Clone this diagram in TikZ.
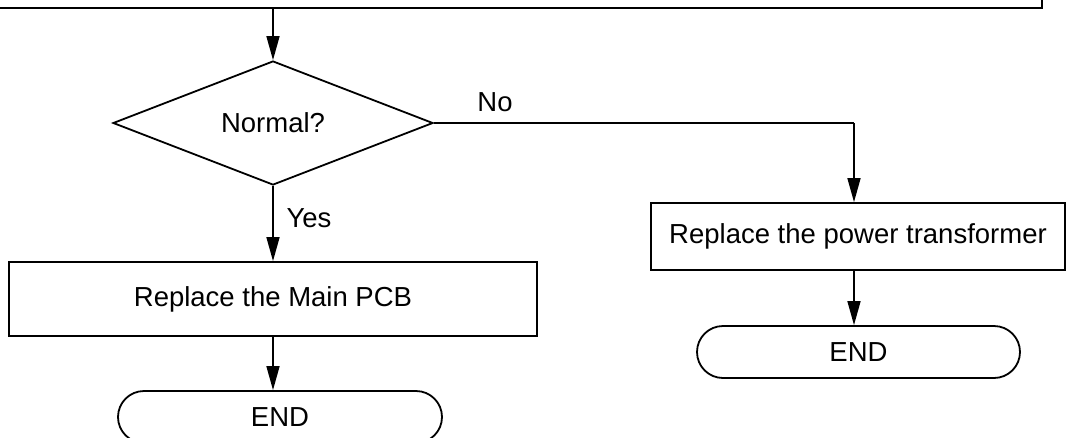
\documentclass[tikz,border=0pt]{standalone}
\usepackage{fontspec}
\setmainfont{Liberation Sans}
\usetikzlibrary{shapes.geometric,shapes.misc,arrows.meta,calc}
\begin{document}
\begin{tikzpicture}[x=1pt,y=-1pt,
  every node/.style={font=\fontsize{27.5}{33}\selectfont, inner sep=0pt},
  boxstyle/.style={draw, line width=1.8pt, rectangle},
  decstyle/.style={draw, line width=1.8pt, diamond, aspect=2.58},
  termstyle/.style={draw, line width=1.8pt, rounded rectangle},
  lbl/.style={},
  flow/.style={line width=1.6pt, -{Triangle[length=24pt,width=13pt]}},
  plain/.style={line width=1.6pt}]
\useasboundingbox (0,0) rectangle (1066,437);
\clip (0,0) rectangle (1066,437);
\node[boxstyle, minimum width=1142pt, minimum height=68pt] (top) at (471,-26) {};
\node[decstyle, minimum width=320pt, minimum height=124pt] (dec) at (273,123) {Normal?};
\node[boxstyle, minimum width=528pt, minimum height=74pt] (pcb) at (273,299) {Replace the Main PCB};
\node[termstyle, minimum width=324pt, minimum height=52pt] (end1) at (280,417) {END};
\node[boxstyle, minimum width=414pt, minimum height=67pt] (trans) at (858,236.5) {Replace the power transformer};
\node[termstyle, minimum width=323pt, minimum height=52pt] (end2) at (858.5,352) {END};
\node[lbl] (no) at (495,102) {No};
\node[lbl] (yes) at (309,218) {Yes};
\coordinate (nc) at (854,123);
\draw[flow] (dec.north |- top.south) -- (dec.north);
\draw[flow] (dec.south) -- (pcb.north);
\draw[flow] (pcb.south) -- (pcb.south |- end1.north);
\draw[plain] (dec.east) -- (nc);
\draw[flow] (nc) -- (nc |- trans.north);
\draw[flow] (nc |- trans.south) -- (nc |- end2.north);
\end{tikzpicture}
\end{document}
